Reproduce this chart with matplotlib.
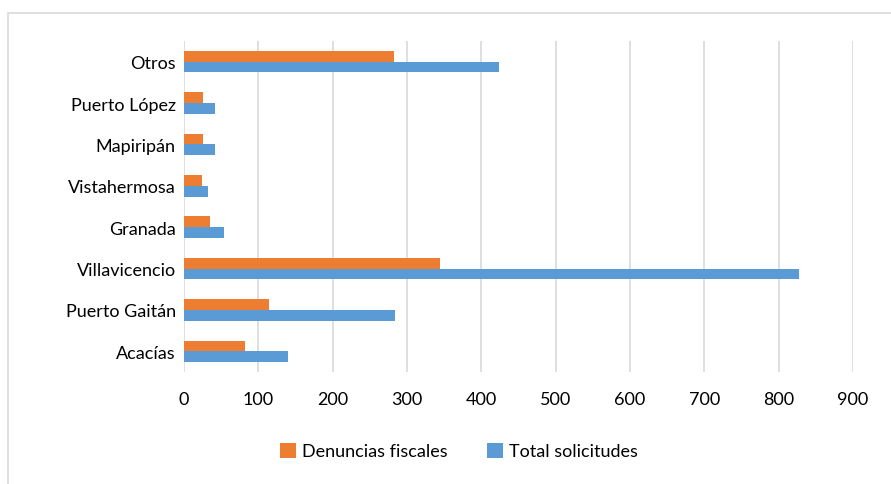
import numpy as np
import matplotlib.pyplot as plt
from matplotlib.patches import Rectangle

plt.rcParams["font.family"] = ["Lato", "DejaVu Sans"]

categories = ["Acacías", "Puerto Gaitán", "Villavicencio", "Granada",
              "Vistahermosa", "Mapiripán", "Puerto López", "Otros"]
denuncias = [82, 115, 345, 35, 24, 25, 25, 283]
total = [140, 284, 827, 54, 32, 42, 42, 424]

fig = plt.figure(figsize=(8.91, 4.85), dpi=100)
ax = fig.add_axes([184 / 891, 1 - 373 / 485, (853 - 184) / 891, (373 - 42) / 485])

y = np.arange(len(categories))
h = 0.26
ax.barh(y + h / 2, denuncias, height=h, color="#ED7D31", label="Denuncias fiscales", zorder=3)
ax.barh(y - h / 2, total, height=h, color="#5B9BD5", label="Total solicitudes", zorder=3)

ax.set_xlim(0, 900)
ax.set_ylim(-0.5, len(categories) - 0.5)
ax.set_xticks(range(0, 901, 100))
ax.set_yticks(y)
ax.set_yticklabels(categories)
ax.grid(axis="x", color="#D9D9D9", linewidth=1.2, zorder=0)
ax.tick_params(length=0, labelsize=13, colors="black")
ax.tick_params(axis="x", pad=14)
ax.tick_params(axis="y", pad=6)
for s in ax.spines.values():
    s.set_visible(False)

fig.legend(loc="center", bbox_to_anchor=(459 / 891, 1 - 452 / 485), ncol=2,
           frameon=False, fontsize=13, handlelength=0.9, handleheight=0.9,
           handletextpad=0.3, columnspacing=2.2)

fig.patches.append(Rectangle((8 / 891, -0.1), 1.2, 1 - 14 / 485 + 0.1,
                             transform=fig.transFigure, fill=False,
                             edgecolor="#D9D9D9", linewidth=1.2))

fig.savefig("out.png", dpi=100)
